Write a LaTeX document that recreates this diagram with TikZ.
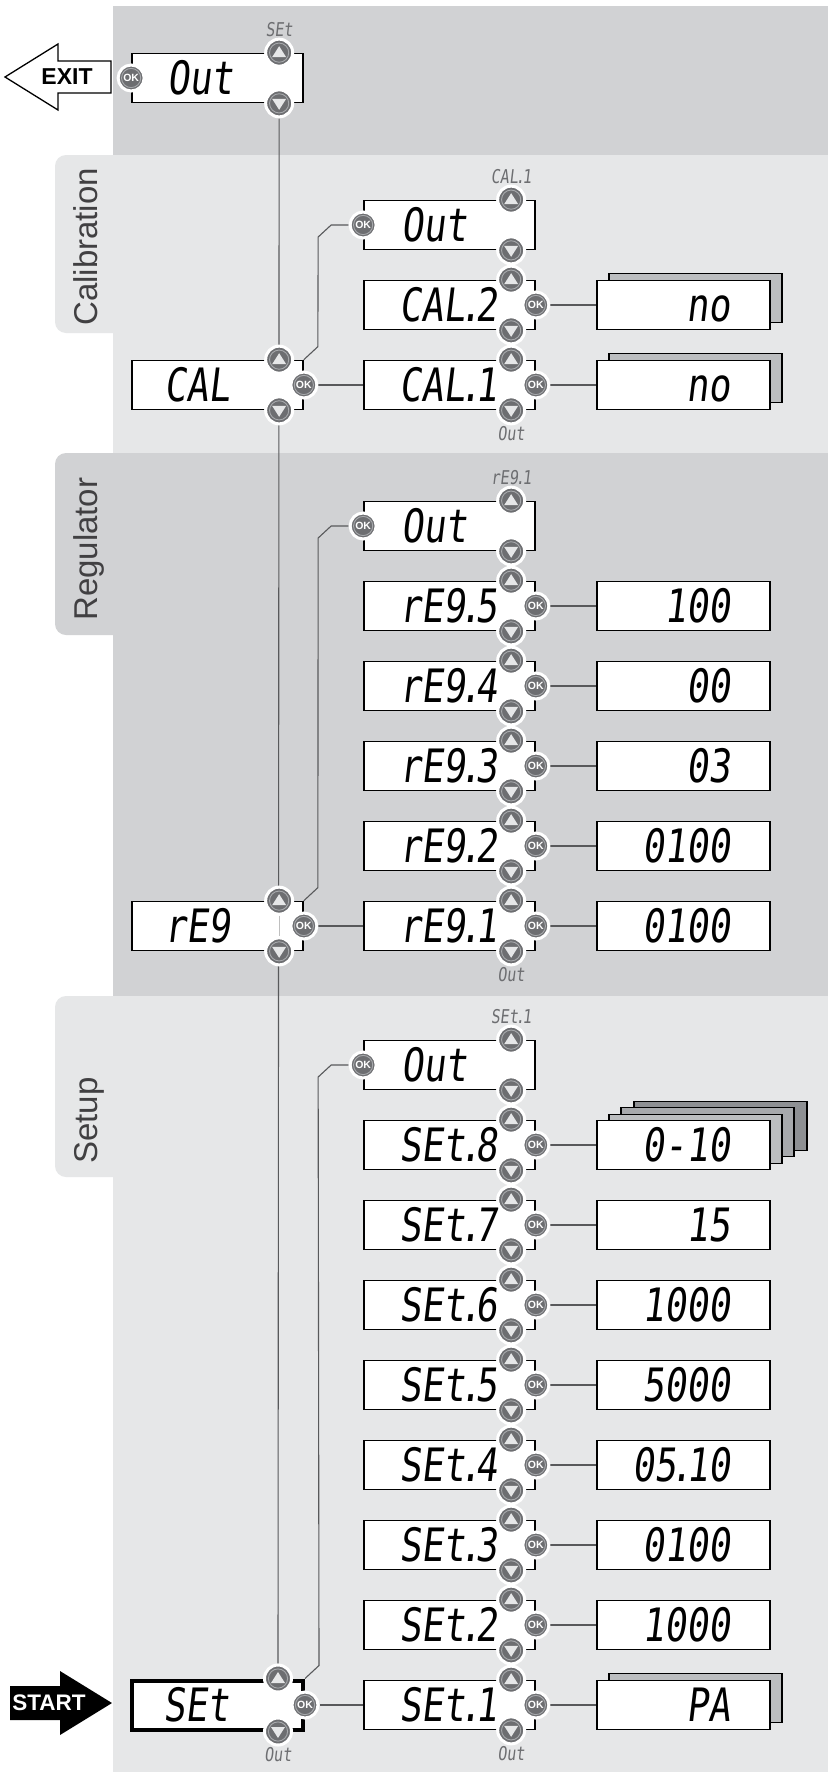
\documentclass[tikz,border=0pt]{standalone}
\usepackage{fontspec}
\setmainfont{Liberation Sans}
\newfontfamily\lcdfont[FakeSlant=0.12,FakeStretch=0.795]{DejaVu Sans Mono}
\newcommand\lcdpt{\kern-0.13em.\kern-0.13em}
\usetikzlibrary{calc}
\pgfdeclarelayer{back}
\pgfdeclarelayer{wires}
\pgfsetlayers{back,wires,main}

\definecolor{darkband}{HTML}{D1D2D4}
\definecolor{lightband}{HTML}{E6E7E8}
\definecolor{keygray}{HTML}{6D6E71}
\definecolor{keyring}{HTML}{A7A9AC}
\definecolor{keymark}{HTML}{E6E7E8}
\definecolor{wiregray}{HTML}{58595B}
\definecolor{tabtext}{HTML}{414042}
\definecolor{shadeA}{HTML}{BCBEC0}
\definecolor{shadeB}{HTML}{A7A9AC}
\definecolor{shadeC}{HTML}{8E9093}

\tikzset{
  lcd/.style={draw=black,line width=1.7pt,fill=white,minimum width=171pt,minimum height=49pt,inner sep=0pt},
  valbox/.style={lcd,minimum width=173pt},
  lcdtxt/.style={font=\lcdfont\fontsize{46}{46}\selectfont,text height=33.5pt,text depth=0pt,inner sep=0pt},
  keylbl/.style={font=\lcdfont\fontsize{19}{19}\selectfont,text=keygray,text height=14pt,text depth=0pt,inner sep=0pt},
  keybase/.style={circle,fill=keygray,draw=white,line width=3pt,minimum size=27pt,inner sep=0pt},
  keyup/.style={keybase,path picture={
      \draw[keyring,line width=0.9pt] (path picture bounding box.center) circle (9.6pt);
      \fill[keymark] ([yshift=6.5pt]path picture bounding box.center) -- ++(-7pt,-11pt) -- ++(14pt,0pt) -- cycle;}},
  keydn/.style={keybase,path picture={
      \draw[keyring,line width=0.9pt] (path picture bounding box.center) circle (9.6pt);
      \fill[keymark] ([yshift=-6.5pt]path picture bounding box.center) -- ++(-7pt,11pt) -- ++(14pt,0pt) -- cycle;}},
  keyok/.style={keybase,minimum size=26pt,text=white,font=\bfseries\fontsize{10.5}{10.5}\selectfont,path picture={
      \draw[keyring,line width=0.9pt] (path picture bounding box.center) circle (9.6pt);}},
  wire/.style={draw=wiregray,line width=1.1pt},
  tabtxt/.style={rotate=90,anchor=base west,text=tabtext,font=\fontsize{33}{33}\selectfont,inner sep=0pt},
}

\begin{document}
\begin{tikzpicture}[x=1pt,y=-1pt,label distance=1pt]
  \useasboundingbox (0,0) rectangle (828,1772);
  \begin{pgfonlayer}{back}
    \fill[white] (0,0) rectangle (828,1772);
    \fill[lightband,rounded corners=11pt] (55,155) rectangle (140,333); % Calibration tab
    \fill[darkband,rounded corners=11pt] (55,453) rectangle (140,635); % Regulator tab
    \fill[lightband,rounded corners=11pt] (55,996) rectangle (140,1177); % Setup tab
    \fill[darkband] (113,6) rectangle (828,155);
    \fill[lightband] (113,155) rectangle (828,453);
    \fill[darkband] (113,453) rectangle (828,996);
    \fill[lightband] (113,996) rectangle (828,1772);
  \end{pgfonlayer}
  \node[tabtxt] (tabcal) at (97,326) {Calibration};
  \node[tabtxt] (tabreg) at (97,621) {Regulator};
  \node[tabtxt] (tabset) at (97,1164) {Setup};

  \draw[line width=1.3pt,fill=white] (5,77) -- (58,44) -- (58,61) -- (111,61) -- (111,93) -- (58,93) -- (58,110) -- cycle; % exit arrow
  \node[font=\bfseries\fontsize{23}{23}\selectfont] (exit) at (67,77) {EXIT};
  \fill (10,1686) -- (60,1686) -- (60,1671) -- (112,1703) -- (60,1735) -- (60,1720) -- (10,1720) -- cycle; % start arrow
  \node[text=white,font=\bfseries\fontsize{22.5}{22.5}\selectfont] (start) at (49,1703) {START};

  % top level out
  \node[lcd] (top) at (217.5,78) {};
  \node[lcdtxt,anchor=west] (topt) at ([xshift=36pt]top.west) {Out};
  \node[keyok] (topok) at (top.west) {OK};
  \node[keyup,label={[keylbl]above:SEt}] (topup) at ([xshift=148pt]top.north west) {};
  \node[keydn] (topdn) at ([xshift=148pt]top.south west) {};

  % main menu
  \foreach \nm/\y/\txt/\lw in {cal/385/CAL/1.7pt, reg/926/rE9/1.7pt, set/1705/SEt/4pt}{
    \node[lcd,line width=\lw] (\nm) at (217.5,\y) {};
    \node[lcdtxt,anchor=west] (\nm t) at ([xshift=33pt]\nm.west) {\txt};
    \node[keyup] (\nm up) at ([xshift=148pt]\nm.north west) {};
    \node[keydn] (\nm dn) at ([xshift=148pt]\nm.south west) {};
    \node[keyok] (\nm ok) at (\nm.east) {OK};
  }

  % out entries of the sub menus
  \foreach \nm/\y/\hd in {co/225/CAL\lcdpt1, ro/526/rE9\lcdpt1, so/1065/SEt\lcdpt1}{
    \node[lcd] (\nm) at (449.5,\y) {};
    \node[lcdtxt,anchor=west] (\nm t) at ([xshift=38pt]\nm.west) {Out};
    \node[keyok] (\nm ok) at (\nm.west) {OK};
    \node[keyup,label={[keylbl]above:\hd}] (\nm up) at ([xshift=148pt]\nm.north west) {};
    \node[keydn] (\nm dn) at ([xshift=148pt]\nm.south west) {};
  }

  % stacked value shadows
  \node[valbox,fill=shadeA] (c2sh) at (695.5,298) {};
  \node[valbox,fill=shadeA] (c1sh) at (695.5,378) {};
  \node[valbox,fill=shadeC] (s8shc) at (720.5,1126) {};
  \node[valbox,fill=shadeB] (s8shb) at (707.5,1132) {};
  \node[valbox,fill=shadeA] (s8sha) at (695.5,1139) {};
  \node[valbox,fill=shadeA] (s1sh) at (695.5,1698) {};

  % parameters and values
  \foreach \nm/\y/\txt/\val in {c2/305/CAL\lcdpt2/no, c1/385/CAL\lcdpt1/no,
      r5/606/rE9\lcdpt5/100, r4/686/rE9\lcdpt4/00, r3/766/rE9\lcdpt3/03, r2/846/rE9\lcdpt2/0100, r1/926/rE9\lcdpt1/0100,
      s8/1145/SEt\lcdpt8/0-10, s7/1225/SEt\lcdpt7/15, s6/1305/SEt\lcdpt6/1000, s5/1385/SEt\lcdpt5/5000,
      s4/1465/SEt\lcdpt4/05\lcdpt10, s3/1545/SEt\lcdpt3/0100, s2/1625/SEt\lcdpt2/1000, s1/1705/SEt\lcdpt1/PA}{
    \node[lcd] (\nm) at (449.5,\y) {};
    \node[lcdtxt,anchor=west] (\nm t) at ([xshift=36pt]\nm.west) {\txt};
    \node[keyup] (\nm up) at ([xshift=148pt]\nm.north west) {};
    \node[keydn] (\nm dn) at ([xshift=148pt]\nm.south west) {};
    \node[keyok] (\nm ok) at (\nm.east) {OK};
    \node[valbox] (\nm v) at (683.5,\y) {};
    \node[lcdtxt,anchor=east] (\nm vt) at ([xshift=-40pt]\nm v.east) {\val};
    \begin{pgfonlayer}{wires}
      \draw[wire] (\nm ok) -- (\nm v);
    \end{pgfonlayer}
  }

  \node[keylbl,anchor=north] (c1out) at ([yshift=-1pt]c1dn.south) {Out};
  \node[keylbl,anchor=north] (r1out) at ([yshift=-1pt]r1dn.south) {Out};
  \node[keylbl,anchor=north] (s1out) at ([yshift=-1pt]s1dn.south) {Out};
  \node[keylbl,anchor=north] (setout) at ([yshift=-1pt]setdn.south) {Out};
  \draw[gray!50,line width=1pt] (regup) -- (regdn);

  \begin{pgfonlayer}{wires}
    \draw[wire] (topdn) -- (setup);
    \draw[wire] (calok) -- (c1);
    \draw[wire] (regok) -- (r1);
    \draw[wire] (setok) -- (s1);
    \draw[wire] (cal.north east) -- ++(14,-13) -- ($(cook)+(-45,12)$) -- ($(cook)+(-32,0)$) -- (cook);
    \draw[wire] (reg.north east) -- ++(14,-13) -- ($(rook)+(-45,12)$) -- ($(rook)+(-32,0)$) -- (rook);
    \draw[wire] (set.north east) -- ++(14,-13) -- ($(sook)+(-45,12)$) -- ($(sook)+(-32,0)$) -- (sook);
  \end{pgfonlayer}
\end{tikzpicture}
\end{document}
